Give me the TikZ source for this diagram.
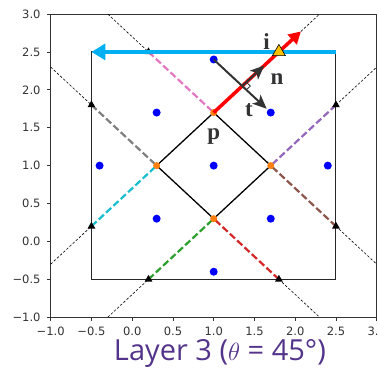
\documentclass[tikz,border=0pt]{standalone}
\usepackage{fontspec}
\usepackage{tikz}
\usetikzlibrary{arrows.meta, calc, shapes.geometric}
\newfontfamily\tickfont{DejaVu Sans}
\newfontfamily\titlefont{Open Sans}
\newfontfamily\vecfont{Liberation Serif}
\newcommand{\xunit}{81.5pt}
\newcommand{\yunit}{75.8pt}
\definecolor{tabcyan}{HTML}{17BECF}
\definecolor{tabpink}{HTML}{E377C2}
\definecolor{tabbrown}{HTML}{8C564B}
\definecolor{tabpurple}{HTML}{9467BD}
\definecolor{tabgreen}{HTML}{2CA02C}
\definecolor{tabred}{HTML}{D62728}
\definecolor{tabgray}{HTML}{7F7F7F}
\definecolor{taborange}{HTML}{FF7F0E}
\definecolor{skyray}{HTML}{00B0F0}
\definecolor{goldmark}{HTML}{FFC000}
\definecolor{vecgray}{HTML}{333333}
\definecolor{layerpurple}{RGB}{84,52,138}
\tikzset{
  % --- axes ---
  frame/.style    = {draw=black!80, line width=0.8pt},
  tickmark/.style = {draw=black!80, line width=0.8pt},
  ticklab/.style  = {font=\tickfont\fontsize{11.5}{13}\selectfont, text=black!80, inner sep=0pt},
  % --- nodes ---
  site/.style     = {circle, fill=blue, inner sep=0pt, minimum size=8pt},
  vtx/.style      = {circle, fill=taborange, inner sep=0pt, minimum size=7pt},
  tri/.style      = {regular polygon, regular polygon sides=3, fill=black,
                     inner sep=0pt, minimum size=9pt},
  goldtri/.style  = {regular polygon, regular polygon sides=3, fill=goldmark,
                     draw=black, line width=0.6pt, inner sep=0pt, minimum size=15pt},
  veclab/.style   = {font=\vecfont\bfseries\fontsize{23}{25}\selectfont, text=vecgray, inner sep=0pt},
  % --- edges ---
  cell/.style     = {draw=black!85, line width=1pt},
  edge/.style     = {black, line width=1.3pt},
  ext/.style      = {black, line width=0.6pt, dash pattern=on 2.5pt off 1.8pt},
  seg/.style      = {line width=2.2pt, dash pattern=on 7pt off 3pt},
  ray/.style      = {-{Triangle[length=14pt, width=16pt]}, line width=4pt, skyray},
  inc/.style      = {-{Triangle[length=12pt, width=13pt]}, line width=3.5pt, red},
  vec/.style      = {-{Stealth[length=14pt, width=12pt, inset=3.5pt]}, line width=2pt, vecgray},
  rangle/.style   = {draw=vecgray, line width=0.8pt},
}

\begin{document}
\begin{tikzpicture}[x=\xunit, y=\yunit]
  \useasboundingbox (-1.622,-1.670) rectangle (3.016,3.185);

  % ===================================================================
  %  AXES
  % ===================================================================
  \draw[frame] (-1,-1) rectangle (3,3);
  \foreach \v/\lab [count=\k] in {-1/{−1.0}, -0.5/{−0.5}, 0/{0.0}, 0.5/{0.5},
                                  1/{1.0}, 1.5/{1.5}, 2/{2.0}, 2.5/{2.5}, 3/{3.0}} {
    \draw[tickmark] (\v,-1) -- ++(0,-3.5pt);
    \draw[tickmark] (-1,\v) -- ++(-3.5pt,0);
    \node[ticklab, anchor=north] (xl\k) at ([yshift=-9.4pt]\v,-1) {\lab};
    \node[ticklab, anchor=east]  (yl\k) at ([xshift=-10pt]-1,\v) {\lab};
  }

  % ===================================================================
  %  POINTS
  % ===================================================================
  % --- diamond corners ---
  \coordinate (p)  at (1,1.7);
  \coordinate (vl) at (0.3,1);
  \coordinate (vr) at (1.7,1);
  \coordinate (vb) at (1,0.3);
  % --- cell box ---
  \coordinate (bl) at (-0.5,-0.5);
  \coordinate (tl) at (-0.5,2.5);
  \coordinate (tr) at (2.5,2.5);
  % --- where the edge lines leave the cell ---
  \coordinate (cL)  at (-0.5,0.2);
  \coordinate (cI)  at (1.8,2.5);
  \coordinate (cT)  at (0.2,2.5);
  \coordinate (cR)  at (2.5,0.2);
  \coordinate (cB)  at (0.2,-0.5);
  \coordinate (cRu) at (2.5,1.8);
  \coordinate (cLu) at (-0.5,1.8);
  \coordinate (cBr) at (1.8,-0.5);
  % --- where they meet the frame ---
  \coordinate (f1) at (-1,-0.3);
  \coordinate (f2) at (2.3,3);
  \coordinate (f3) at (-0.3,3);
  \coordinate (f4) at (3,-0.3);
  \coordinate (f5) at (-0.3,-1);
  \coordinate (f6) at (3,2.3);
  \coordinate (f7) at (-1,2.3);
  \coordinate (f8) at (2.3,-1);

  % ===================================================================
  %  EDGE LINES
  % ===================================================================
  \draw[ext] (f1) -- (cL);
  \draw[ext] (cI) -- (f2);
  \draw[ext] (f3) -- (cT);
  \draw[ext] (cR) -- (f4);
  \draw[ext] (f5) -- (cB);
  \draw[ext] (cRu) -- (f6);
  \draw[ext] (f7) -- (cLu);
  \draw[ext] (cBr) -- (f8);

  \draw[seg, tabcyan]   (cL)  -- (vl);
  \draw[seg, tabpink]   (cT)  -- (p);
  \draw[seg, tabbrown]  (cR)  -- (vr);
  \draw[seg, tabpurple] (cRu) -- (vr);
  \draw[seg, tabgreen]  (cB)  -- (vb);
  \draw[seg, tabred]    (cBr) -- (vb);
  \draw[seg, tabgray]   (cLu) -- (vl);

  \draw[cell] (bl) rectangle (tr);
  \draw[edge] (p) -- (vr) -- (vb) -- (vl) -- cycle;

  \foreach \c [count=\k] in {p, vl, vr, vb}
    \node[vtx] (o\k) at (\c) {};

  % --- lattice sites ---
  \foreach \pt [count=\k] in {(1,2.4), (0.3,1.7), (1.7,1.7), (-0.4,1), (1,1),
                              (2.4,1), (0.3,0.3), (1.7,0.3), (1,-0.4)}
    \node[site] (s\k) at \pt {};

  \foreach \c [count=\k] in {cL, cT, cR, cB, cRu, cLu, cBr}
    \node[tri] (m\k) at (\c) {};

  % ===================================================================
  %  RAYS AND VECTORS
  % ===================================================================
  \draw[ray] (tr) -- (tl);

  \coordinate (rtip) at (2.07,2.77);
  \draw[inc] (p) -- (rtip);
  \node[goldtri] (mi) at (cI) {};

  \coordinate (x)    at (1.35,2.05);
  \coordinate (ntip) at (1.62,2.32);
  \coordinate (ttip) at (1.65,1.75);
  \draw[vec] (x) -- (ntip);
  \draw[vec] (s1.center) -- (ttip);
  \draw[rangle] ($(x)+(0.05,0.05)$) -- ($(x)+(0.1,0)$) -- ($(x)+(0.05,-0.05)$);

  \node[veclab] (li) at (1.650,2.635) {i};
  \node[veclab] (ln) at (1.777,2.139) {n};
  \node[veclab] (lt) at (1.433,1.733) {t};
  \node[veclab] (lp) at (1.0,1.384) {p};

  % ===================================================================
  %  TITLE
  % ===================================================================
  \node[font=\titlefont\fontsize{29}{31}\selectfont, text=layerpurple, anchor=base]
    (title) at (1.077,-1.565) {Layer 3 ($\theta$ = 45°)};

\end{tikzpicture}
\end{document}
